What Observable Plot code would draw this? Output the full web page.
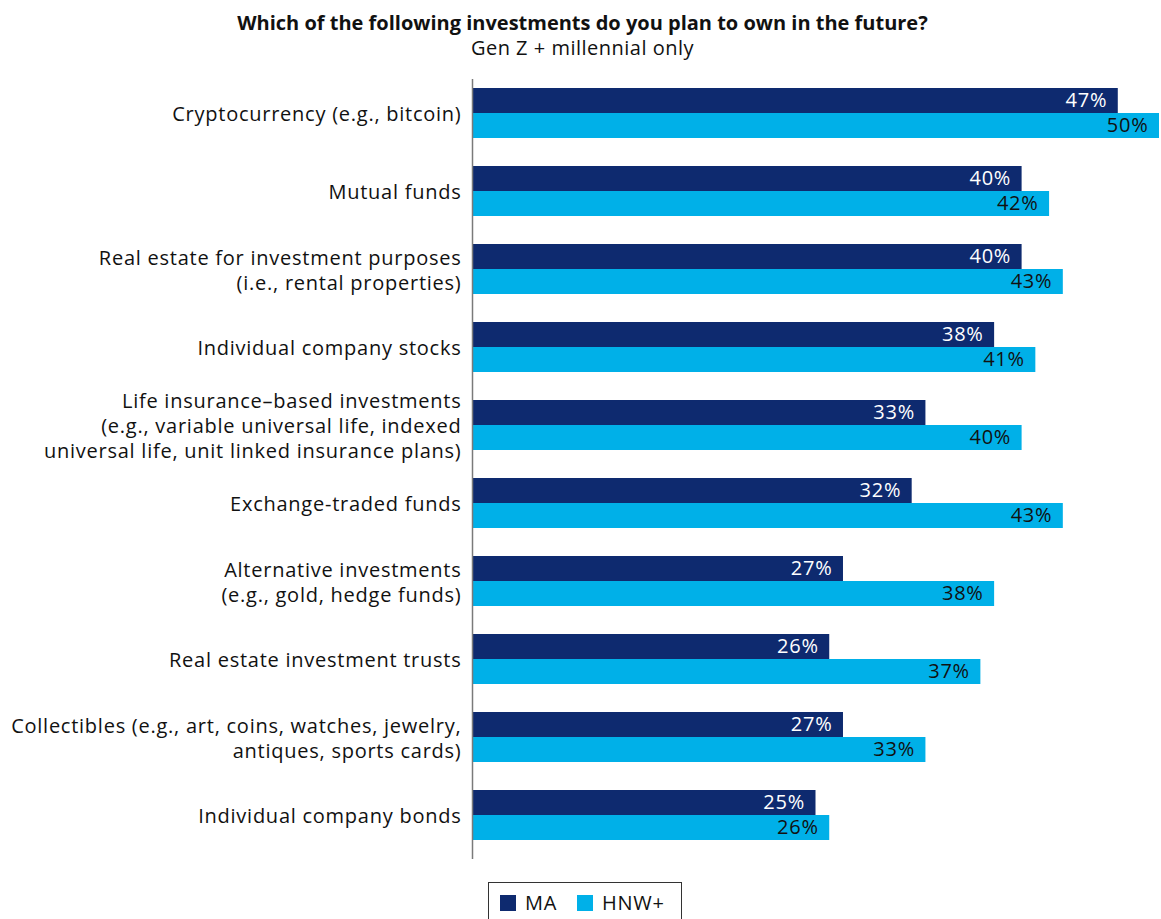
<!DOCTYPE html>
<html>
<head>
<meta charset="utf-8">
<script src="https://cdn.jsdelivr.net/npm/d3@7"></script>
<script src="https://cdn.jsdelivr.net/npm/@observablehq/plot@0.6"></script>
<style>
  body { margin: 0; background: #fff; font-family: "Open Sans", Lato, sans-serif; color: #111; }
  #wrap { width: 1161px; }
  .title { text-align: center; font-weight: 700; font-size: 20px; padding-top: 10px; line-height: 25px; margin-left: 4px; }
  .subtitle { text-align: center; font-size: 20px; line-height: 25px; height: 29px; letter-spacing: 0.5px; margin-left: 4px; }
  .legend { margin: 18px 0 0 488px; width: 194px; height: 40px; border: 1px solid #333; border-bottom: none; box-sizing: border-box; display: flex; align-items: center; font-size: 20px; padding-left: 11px; letter-spacing: 0.7px; }
  .legend .sw { width: 16px; height: 16px; display: inline-block; margin-right: 9px; }
  .legend .item { display: flex; align-items: center; margin-right: 20px; }
  svg text { letter-spacing: 0.75px; }
</style>
</head>
<body>
<div id="wrap">
  <div class="title">Which of the following investments do you plan to own in the future?</div>
  <div class="subtitle">Gen Z + millennial only</div>
  <div id="chart"></div>
  <div class="legend" id="legend"></div>
</div>
<script>
const categories = [
  "Cryptocurrency (e.g., bitcoin)",
  "Mutual funds",
  "Real estate for investment purposes\n(i.e., rental properties)",
  "Individual company stocks",
  "Life insurance–based investments\n(e.g., variable universal life, indexed\nuniversal life, unit linked insurance plans)",
  "Exchange-traded funds",
  "Alternative investments\n(e.g., gold, hedge funds)",
  "Real estate investment trusts",
  "Collectibles (e.g., art, coins, watches, jewelry,\nantiques, sports cards)",
  "Individual company bonds"
];
const seriesNames = ["MA", "HNW+"];
const maValues = [47, 40, 40, 38, 33, 32, 27, 26, 27, 25];
const hnwValues = [50, 42, 43, 41, 40, 43, 38, 37, 33, 26];
const seriesColors = ["#0e2a6f", "#00b0e8"];
const labelColors = ["#ffffff", "#111111"];

const data = categories.flatMap((c, i) => [
  {category: c, series: seriesNames[0], value: maValues[i]},
  {category: c, series: seriesNames[1], value: hnwValues[i]}
]);

const chart = Plot.plot({
  width: 1161,
  height: 800,
  marginLeft: 472,
  marginRight: 2,
  marginTop: 23,
  marginBottom: 24,
  style: {fontFamily: "'Open Sans', Lato, sans-serif", background: "#fff"},
  x: {domain: [0, 50], axis: null},
  y: {domain: seriesNames, axis: null, padding: 0},
  fy: {domain: categories, paddingInner: 27 / 78, paddingOuter: 0, label: null, axis: null},
  color: {domain: seriesNames, range: seriesColors},
  marks: [
    Plot.barX(data, {fy: "category", y: "series", x: "value", fill: "series"}),
    Plot.text(data, {
      fy: "category", y: "series", x: "value",
      text: d => d.value + "%",
      textAnchor: "end", dx: -11, fontSize: 20,
      fill: d => labelColors[seriesNames.indexOf(d.series)]
    }),
    Plot.ruleX([0], {stroke: "#7a7a7a", strokeWidth: 1.5, insetTop: -8, insetBottom: -19}),
    Plot.axisFy({anchor: "left", tickSize: 0, tickPadding: 11, fontSize: 20, lineHeight: 1.25, label: null, fill: "#111"})
  ]
});
document.getElementById("chart").appendChild(chart);

const legend = document.getElementById("legend");
seriesNames.forEach((s, i) => {
  const item = document.createElement("span");
  item.className = "item";
  item.innerHTML = `<span class="sw" style="background:${seriesColors[i]}"></span>${s}`;
  legend.appendChild(item);
});
</script>
</body>
</html>
